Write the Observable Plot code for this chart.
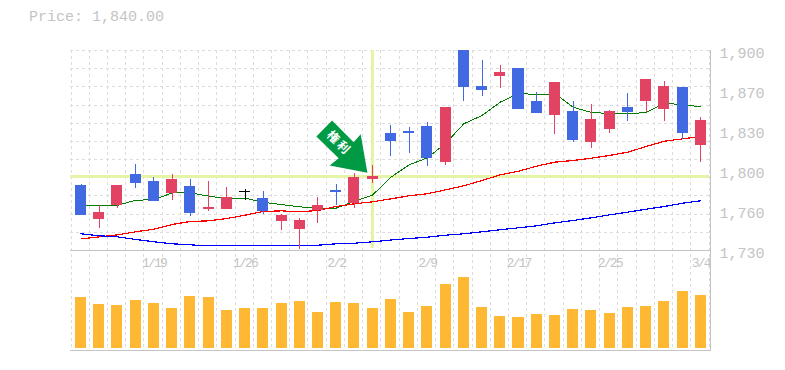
<!DOCTYPE html>
<html>
<head>
<meta charset="utf-8">
<script src="https://cdn.jsdelivr.net/npm/d3@7"></script>
<script src="https://cdn.jsdelivr.net/npm/@observablehq/plot@0.6"></script>
<style>
html,body{margin:0;padding:0;background:#fff;}
#title{height:32px;padding-left:29px;font:15px/36px "Liberation Mono",monospace;color:#c4c4c4;box-sizing:border-box;}
svg{display:block;}
g[aria-label="x-axis tick label"]{font-size:13px;letter-spacing:-1.8px;}
g[aria-label="text"]{letter-spacing:2.5px;}
</style>
</head>
<body>
<div id="title">Price: 1,840.00</div>
<div id="chart"></div>
<script>
const dates = ["1/13","1/14","1/15","1/16","1/19","1/20","1/21","1/22","1/23","1/26","1/27","1/28","1/29","1/30","2/2","2/3","2/4","2/5","2/6","2/9","2/10","2/12","2/13","2/16","2/17","2/18","2/19","2/20","2/24","2/25","2/26","2/27","3/2","3/3","3/4"];
const opens  = [1785.3,1756.4,1768.3,1794.6,1788.7,1778.5,1784.4,1764.9,1764.9,1780.2,1774.2,1754.7,1747.9,1764,1780.6,1770,1790.4,1829.5,1831.2,1835.4,1804.8,1900,1869.4,1877.9,1884.7,1856.7,1844.8,1848.2,1821.8,1832.9,1851.6,1856.7,1849.9,1868.6,1819.3];
const closes = [1759.8,1762.3,1785.3,1787,1771.7,1790.4,1761.5,1766.6,1775.1,1780.2,1763.2,1759.8,1755.5,1768.3,1779.6,1792,1792.9,1822.7,1829.5,1808.2,1851.6,1868.6,1866,1881.3,1849.9,1846.5,1872.8,1823.5,1841.4,1848.2,1847.3,1875.4,1869.4,1829.5,1840.5];
const highs  = [1786.1,1768.3,1785.3,1803.1,1792.1,1794.6,1790.4,1788.7,1783.6,1781.9,1780.2,1760.6,1757.2,1775.1,1786.1,1795.7,1802.3,1836.3,1834.6,1838.8,1851.6,1900,1891.5,1887.3,1884.7,1864.3,1872.8,1856.7,1854.1,1849,1863.5,1875.4,1873.7,1868.6,1843.1];
const lows   = [1759.8,1748.7,1765.7,1782.7,1771.7,1772.5,1758.9,1763.2,1764.9,1772.5,1760.6,1747,1731.1,1753,1768.3,1765.7,1787,1809.9,1812.5,1801.4,1802.3,1856.7,1860.9,1867.7,1849.9,1846.5,1828.6,1821.8,1816.7,1829.5,1839.7,1847.3,1839.7,1824.4,1804.8];
const maShort = [1767.8,1768,1768.3,1772.8,1773.1,1779,1779,1776.2,1774,1774.5,1771,1769.1,1767.1,1766,1766,1771.7,1777.2,1792.3,1802.8,1808.8,1821,1837.7,1844.8,1856.1,1863.5,1862.6,1863.2,1851.8,1847.3,1846.5,1846.2,1847.3,1855,1854.1,1852.1];
const maMid   = [1739.9,1741.6,1743.3,1745.9,1748.1,1752.1,1754.7,1755.2,1757.2,1760,1763.2,1763.7,1762.9,1764,1767.4,1769.7,1771.4,1773.9,1776.5,1778.2,1781.6,1785,1789.5,1794.3,1797.4,1801.7,1805.1,1806.5,1808.5,1810.8,1813.6,1818.4,1822.9,1824.9,1826.9];
const maLong  = [1744.2,1742.5,1741.6,1739.4,1737.4,1735.7,1734.8,1734,1734,1734,1734,1734,1734,1734.5,1735.7,1736.2,1737.4,1738.9,1740.2,1741.3,1743,1744.2,1745.9,1747.6,1749.3,1751,1753.5,1755.5,1757.8,1760.3,1762.6,1765.1,1767.4,1770.2,1772.3];
const volume  = [51,44,43,48,45,40,52,51,38,40,40,45,47,36,46,45,40,49,36,42,64,71,41,32,31,34,33,39,38,35,41,42,47,57,53];
const tickDates = ["1/19","1/26","2/2","2/9","2/17","2/25","3/4"];
const priceTicks = [1900,1866,1832,1798,1764,1730];
const priceLabels = ["1,900","1,870","1,830","1,800","1,760","1,730"];
const gridPrices = [1730,1745.5,1760.9,1776.4,1791.8,1807.3,1822.7,1838.2,1853.6,1869.1,1884.5,1900];
const highlightPrice = 1792.5;
const highlightDate = "2/4";
const noteLabel = "権利";
const notePrice = 1796;

const GRID="#dcdcdc", AXIS="#c4c4c4", HILITE="#e4f5a8", RED="#e24362", BLUE="#4169e1", VOL="#ffb834", ARROW="#009944";
const rows = dates.map((date,i)=>({date,open:opens[i],close:closes[i],high:highs[i],low:lows[i],volume:volume[i]}));
const lineRows = s => dates.map((date,i)=>({date,value:s[i]}));
const candleColor = d => d.close>d.open ? RED : d.close<d.open ? BLUE : "#000";
const crisp = {shapeRendering:"crispEdges"};
const xScale = {type:"band",domain:dates,range:[71.4,709.4],padding:0,round:false,axis:null};
const gridOpts = {stroke:GRID,strokeDasharray:"3 3",...crisp};
const arrowShape = {draw(c){
  const p=[[0,0],[-6.7,-38.6],[-13.7,-30.6],[-35.3,-52.3],[-51,-36.3],[-28.7,-14.6],[-37.7,-7.3]];
  c.moveTo(...p[0]); p.slice(1).forEach(q=>c.lineTo(...q)); c.closePath();
}};
const baseStyle = {fontFamily:'"Liberation Mono",monospace',fontSize:"15px",color:AXIS,background:"transparent"};

const pricePlot = Plot.plot({
  width:785,height:240,marginTop:18,marginBottom:22,marginLeft:70,marginRight:74,
  style:baseStyle,
  x:xScale,
  y:{domain:[1730,1900],axis:null},
  color:{type:"identity"},
  marks:[
    Plot.ruleY(gridPrices.slice(1),{...gridOpts,insetRight:2}),
    Plot.ruleX(dates,{x:d=>d,...gridOpts,dx:-10,insetBottom:-22}),
    Plot.ruleX(dates.slice(-1),{x:d=>d,...gridOpts,dx:8.7,insetBottom:-22}),
    Plot.ruleY([highlightPrice],{stroke:HILITE,strokeWidth:3,insetRight:2,...crisp}),
    Plot.ruleX([highlightDate],{x:d=>d,stroke:HILITE,strokeWidth:3,y1:1732,y2:1900,...crisp}),
    Plot.ruleY([1730],{stroke:AXIS,...crisp}),
    Plot.ruleX(dates.slice(-1),{x:d=>d,stroke:AXIS,dx:10,insetBottom:-22,...crisp}),
    Plot.line(lineRows(maShort),{x:"date",y:"value",stroke:"#007d00",strokeWidth:1,curve:"linear",...crisp}),
    Plot.line(lineRows(maMid),{x:"date",y:"value",stroke:"#ff0000",strokeWidth:1.2,curve:"linear",...crisp}),
    Plot.line(lineRows(maLong),{x:"date",y:"value",stroke:"#0000ff",strokeWidth:1.2,curve:"linear",...crisp}),
    Plot.ruleX(rows,{x:"date",y1:"low",y2:"high",stroke:candleColor,strokeWidth:1,...crisp}),
    Plot.barY(rows.filter(d=>d.open!==d.close),{x:"date",y1:"open",y2:"close",fill:candleColor,insetLeft:3.6,insetRight:3.6,...crisp}),
    Plot.tickY(rows.filter(d=>d.open===d.close),{x:"date",y:"open",stroke:candleColor,strokeWidth:1,insetLeft:3.6,insetRight:3.6,...crisp}),
    Plot.dot([{date:highlightDate,price:notePrice}],{x:"date",y:"price",symbol:arrowShape,r:5,fill:ARROW,stroke:null,dx:-5.3}),
    Plot.text([noteLabel],{x:()=>highlightDate,y:()=>notePrice,text:d=>d,dx:-33.6,dy:-29.6,rotate:45,fill:"#fff",fontSize:12,fontWeight:"bold",fontFamily:'"Noto Sans CJK JP",sans-serif'}),
    Plot.axisY({anchor:"right",ticks:priceTicks,tickFormat:d=>priceLabels[priceTicks.indexOf(d)],tickSize:0,tickPadding:8,label:null,textAnchor:"start",dy:3}),
    Plot.axisX({anchor:"bottom",ticks:tickDates,tickSize:0,tickPadding:7,label:null})
  ]
});

const volumePlot = Plot.plot({
  width:785,height:98,marginTop:1,marginBottom:22,marginLeft:70,marginRight:74,
  style:baseStyle,
  x:xScale,
  y:{domain:[0,75],axis:null},
  marks:[
    Plot.ruleX(dates,{x:d=>d,...gridOpts,dx:-10,insetTop:-1,insetBottom:-2}),
    Plot.ruleX(dates.slice(-1),{x:d=>d,...gridOpts,dx:8.7,insetTop:-1,insetBottom:-2}),
    Plot.ruleX(dates.slice(-1),{x:d=>d,stroke:AXIS,dx:10,insetTop:-1,insetBottom:-2,...crisp}),
    Plot.ruleY([0],{stroke:AXIS,dy:2,...crisp}),
    Plot.barY(rows,{x:"date",y:"volume",fill:VOL,insetLeft:3.6,insetRight:3.6,...crisp})
  ]
});
document.getElementById("chart").append(pricePlot,volumePlot);
</script>
</body>
</html>
